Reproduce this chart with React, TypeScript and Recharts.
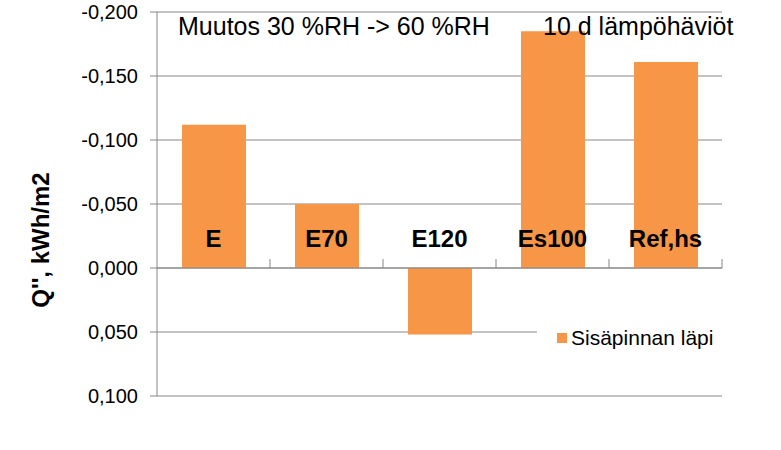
import React from "react"
import { Bar, BarChart, CartesianGrid, ReferenceLine, XAxis, YAxis } from "recharts"

// categories and values (kWh/m2), negative = up because the axis is reversed
const categories = ["E", "E70", "E120", "Es100", "Ref,hs"]
const sisapinta = [-0.112, -0.05, 0.052, -0.185, -0.161]
const yTicks = [-0.2, -0.15, -0.1, -0.05, 0, 0.05, 0.1]

const Y_MIN = -0.2
const Y_MAX = 0.1

const W = 781
const H = 450
const PLOT_LEFT = 157
const PLOT_RIGHT = 722
const PLOT_TOP = 12
const PLOT_BOTTOM = 396

const FONT = "'Liberation Sans', Arial, sans-serif"
const ORANGE = "#F79646"
const GRID = "#868686"

const data = categories.map((name, i) => ({ name, value: sisapinta[i] }))

const zeroY = PLOT_TOP + ((PLOT_BOTTOM - PLOT_TOP) * (0 - Y_MIN)) / (Y_MAX - Y_MIN)
const catW = (PLOT_RIGHT - PLOT_LEFT) / categories.length

const fmt = (v: number) => v.toFixed(3).replace(".", ",")

function CatTick(props: any) {
  const { x, payload } = props
  return (
    <g>
      <text
        x={x}
        y={zeroY - 30}
        textAnchor="middle"
        dominantBaseline="central"
        fontFamily={FONT}
        fontWeight="bold"
        fontSize={24}
        fill="#000"
      >
        {payload.value}
      </text>
      <line x1={x + catW / 2} x2={x + catW / 2} y1={zeroY - 9} y2={zeroY} stroke={GRID} />
    </g>
  )
}

function YLabel(props: any) {
  const { viewBox } = props
  const cx = 40
  const cy = viewBox.y + viewBox.height / 2 + 36
  return (
    <text
      x={cx}
      y={cy}
      transform={`rotate(-90, ${cx}, ${cy})`}
      textAnchor="middle"
      dominantBaseline="central"
      fontFamily={FONT}
      fontWeight="bold"
      fontSize={24}
      fill="#000"
    >
      Q'', kWh/m2
    </text>
  )
}

export default function App() {
  return (
    <div style={{ position: "absolute", left: 0, top: 0, width: W, height: H, background: "#fff", fontFamily: FONT }}>
      <BarChart
        width={W}
        height={H}
        data={data}
        margin={{ top: PLOT_TOP, right: W - PLOT_RIGHT, left: 0, bottom: 0 }}
        barSize={64}
      >
        <CartesianGrid vertical={false} stroke={GRID} />
        <XAxis
          dataKey="name"
          axisLine={false}
          tickLine={false}
          tick={<CatTick />}
          height={H - PLOT_BOTTOM}
          interval={0}
        />
        <YAxis
          type="number"
          reversed
          domain={[Y_MIN, Y_MAX]}
          ticks={yTicks}
          tickFormatter={fmt}
          width={PLOT_LEFT}
          stroke={GRID}
          tickSize={7}
          tickMargin={12}
          tick={{ fontSize: 20, fill: "#000", fontFamily: FONT }}
          label={<YLabel />}
        />
        <ReferenceLine y={0} stroke={GRID} />
        <Bar dataKey="value" fill={ORANGE} isAnimationActive={false} />
      </BarChart>

      <div style={{ position: "absolute", left: 178, top: 12, fontSize: 25, color: "#000", whiteSpace: "nowrap" }}>
        Muutos 30 %RH -&gt; 60 %RH
      </div>
      <div style={{ position: "absolute", left: 543, top: 12, fontSize: 25, color: "#000", whiteSpace: "nowrap" }}>
        10 d lämpöhäviöt
      </div>

      <div
        style={{
          position: "absolute",
          left: 537,
          top: 322,
          width: 186,
          height: 32,
          background: "#fff",
          display: "flex",
          alignItems: "center",
          fontSize: 21,
          color: "#000",
          whiteSpace: "nowrap",
        }}
      >
        <span style={{ display: "inline-block", width: 10, height: 10, background: ORANGE, marginLeft: 20, marginRight: 4 }} />
        Sisäpinnan läpi
      </div>
    </div>
  )
}
